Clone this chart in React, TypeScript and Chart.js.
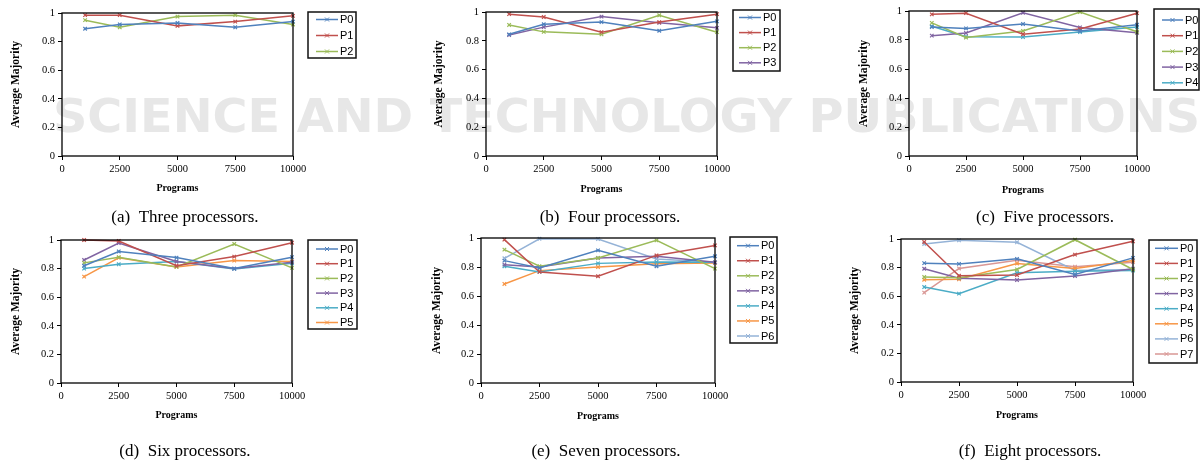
import React, { useEffect, useRef } from 'react';
import { Chart, registerables } from 'chart.js';
Chart.register(...registerables);

// ---------- data ----------
const programs = [1000, 2500, 5000, 7500, 10000];
const xTickValues = [0, 2500, 5000, 7500, 10000];
const yTickValues = [0, 0.2, 0.4, 0.6, 0.8, 1];
const seriesNames = ['P0', 'P1', 'P2', 'P3', 'P4', 'P5', 'P6', 'P7'];
const seriesColors = ['#4F81BD', '#C0504D', '#9BBB59', '#8064A2', '#4BACC6', '#F79646', '#95B3D7', '#D99795'];
const xAxisTitle = 'Programs';
const yAxisTitle = 'Average Majority';
const captions = [
  '(a)\u00a0\u00a0Three processors.',
  '(b)\u00a0\u00a0Four processors.',
  '(c)\u00a0\u00a0Five processors.',
  '(d)\u00a0\u00a0Six processors.',
  '(e)\u00a0\u00a0Seven processors.',
  '(f)\u00a0\u00a0Eight processors.',
];

// (a) three processors
const threeP0 = [0.89, 0.92, 0.93, 0.9, 0.94];
const threeP1 = [0.985, 0.985, 0.91, 0.94, 0.98];
const threeP2 = [0.95, 0.9, 0.975, 0.985, 0.92];
// (b) four processors
const fourP0 = [0.845, 0.915, 0.93, 0.87, 0.935];
const fourP1 = [0.985, 0.965, 0.86, 0.93, 0.985];
const fourP2 = [0.91, 0.862, 0.845, 0.977, 0.86];
const fourP3 = [0.84, 0.895, 0.968, 0.925, 0.89];
// (c) five processors
const fiveP0 = [0.89, 0.88, 0.91, 0.862, 0.905];
const fiveP1 = [0.977, 0.985, 0.84, 0.876, 0.985];
const fiveP2 = [0.918, 0.817, 0.862, 0.992, 0.857];
const fiveP3 = [0.83, 0.848, 0.988, 0.887, 0.85];
const fiveP4 = [0.895, 0.823, 0.82, 0.855, 0.89];
// (d) six processors
const sixP0 = [0.82, 0.92, 0.877, 0.8, 0.88];
const sixP1 = [1.0, 0.993, 0.82, 0.884, 0.981];
const sixP2 = [0.84, 0.88, 0.812, 0.972, 0.805];
const sixP3 = [0.86, 0.978, 0.85, 0.8, 0.845];
const sixP4 = [0.8, 0.83, 0.85, 0.798, 0.837];
const sixP5 = [0.744, 0.876, 0.812, 0.856, 0.85];
// (e) seven processors
const sevenP0 = [0.844, 0.793, 0.915, 0.805, 0.874];
const sevenP1 = [0.989, 0.766, 0.736, 0.88, 0.949];
const sevenP2 = [0.92, 0.805, 0.862, 0.984, 0.789];
const sevenP3 = [0.816, 0.8, 0.862, 0.874, 0.832];
const sevenP4 = [0.805, 0.766, 0.825, 0.834, 0.832];
const sevenP5 = [0.683, 0.775, 0.8, 0.823, 0.828];
const sevenP6 = [0.86, 0.995, 0.993, 0.855, 0.832];
// (f) eight processors
const eightP0 = [0.831, 0.826, 0.861, 0.752, 0.868];
const eightP1 = [0.979, 0.743, 0.748, 0.891, 0.984];
const eightP2 = [0.734, 0.729, 0.787, 0.995, 0.787];
const eightP3 = [0.792, 0.725, 0.713, 0.741, 0.792];
const eightP4 = [0.664, 0.618, 0.764, 0.775, 0.78];
const eightP5 = [0.715, 0.718, 0.829, 0.794, 0.85];
const eightP6 = [0.965, 0.991, 0.977, 0.78, 0.787];
const eightP7 = [0.625, 0.794, 0.852, 0.806, 0.838];

const panelSeries = [
  [threeP0, threeP1, threeP2],
  [fourP0, fourP1, fourP2, fourP3],
  [fiveP0, fiveP1, fiveP2, fiveP3, fiveP4],
  [sixP0, sixP1, sixP2, sixP3, sixP4, sixP5],
  [sevenP0, sevenP1, sevenP2, sevenP3, sevenP4, sevenP5, sevenP6],
  [eightP0, eightP1, eightP2, eightP3, eightP4, eightP5, eightP6, eightP7],
];

// ---------- layout (page pixel coordinates) ----------
const W = 1203;
const H = 461;
const layouts = [
  { L: 62, T: 13, R: 293, B: 156, yTitleX: 16, xH: 38, box: [308, 12, 356, 58], row0: 19.5, dy: 16, line: [316, 338], textX: 340, cx: 185, cy: 217 },
  { L: 486, T: 12, R: 717, B: 156, yTitleX: 439, xH: 39, box: [733, 10, 780, 71], row0: 17.5, dy: 15.1, line: [739, 761], textX: 763, cx: 610, cy: 217 },
  { L: 909, T: 11, R: 1137, B: 156, yTitleX: 864, xH: 40, box: [1154, 9, 1199, 90], row0: 20, dy: 15.7, line: [1162, 1183], textX: 1185, cx: 1045, cy: 217 },
  { L: 61, T: 240, R: 292, B: 383, yTitleX: 16, xH: 38, box: [308, 240, 357, 329], row0: 249, dy: 14.7, line: [316, 338], textX: 340, cx: 185, cy: 451 },
  { L: 481, T: 238, R: 715, B: 383, yTitleX: 437, xH: 39, box: [730, 237, 777, 343], row0: 245.7, dy: 15.05, line: [737, 759], textX: 761, cx: 606, cy: 451 },
  { L: 901, T: 239, R: 1133, B: 382, yTitleX: 855, xH: 39, box: [1149, 240, 1197, 363], row0: 248.3, dy: 15.1, line: [1155, 1178], textX: 1180, cx: 1030, cy: 451 },
];

const SERIF = '"Liberation Serif", "Times New Roman", serif';
const SANS = '"Liberation Sans", Arial, sans-serif';

const panelDecor = {
  id: 'panelDecor',
  afterDraw(chart: any, _args: any, opts: any) {
    const ctx = chart.ctx;
    const a = chart.chartArea;
    ctx.save();
    // plot box
    ctx.strokeStyle = '#000';
    ctx.lineWidth = 1.3;
    ctx.strokeRect(a.left, a.top, a.right - a.left, a.bottom - a.top);
    // legend
    const { box, row0, dy, line, textX } = opts;
    ctx.strokeStyle = '#111';
    ctx.lineWidth = 1.5;
    ctx.strokeRect(box[0], box[1], box[2] - box[0], box[3] - box[1]);
    chart.data.datasets.forEach((ds: any, i: number) => {
      const y = row0 + i * dy;
      ctx.strokeStyle = ds.borderColor;
      ctx.lineWidth = 1.5;
      ctx.beginPath();
      ctx.moveTo(line[0], y);
      ctx.lineTo(line[1], y);
      ctx.stroke();
      const mx = (line[0] + line[1]) / 2;
      const r = 2;
      ctx.lineWidth = 1;
      ctx.beginPath();
      ctx.moveTo(mx - r, y - r);
      ctx.lineTo(mx + r, y + r);
      ctx.moveTo(mx - r, y + r);
      ctx.lineTo(mx + r, y - r);
      ctx.stroke();
      ctx.fillStyle = '#000';
      ctx.font = '11px ' + SANS;
      ctx.textBaseline = 'middle';
      ctx.textAlign = 'left';
      ctx.fillText(ds.label, textX, y + 0.5);
    });
    ctx.restore();
  },
};

function buildConfig(series: number[][], lay: any): any {
  const padLeft = lay.yTitleX - 7;
  return {
    type: 'line',
    data: {
      datasets: series.map((vals, i) => ({
        label: seriesNames[i],
        data: programs.map((x, j) => ({ x, y: vals[j] })),
        borderColor: seriesColors[i],
        backgroundColor: seriesColors[i],
        borderWidth: 1.5,
        pointStyle: 'crossRot',
        pointRadius: 2.5,
        pointBorderWidth: 1.2,
        tension: 0,
        clip: false,
      })),
    },
    options: {
      animation: false,
      responsive: false,
      events: [],
      layout: {
        padding: { left: padLeft, top: lay.T, right: W - lay.R, bottom: H - lay.B - lay.xH },
      },
      plugins: {
        legend: { display: false },
        tooltip: { enabled: false },
        panelDecor: { box: lay.box, row0: lay.row0, dy: lay.dy, line: lay.line, textX: lay.textX },
      },
      scales: {
        x: {
          type: 'linear',
          min: 0,
          max: 10000,
          afterBuildTicks: (s: any) => { s.ticks = xTickValues.map((v) => ({ value: v })); },
          afterFit: (s: any) => { s.height = lay.xH; },
          ticks: { callback: (v: any) => String(v), color: '#000', font: { family: SERIF, size: 10.5 }, padding: 3, maxRotation: 0, autoSkip: false },
          grid: { display: true, drawOnChartArea: false, drawTicks: true, tickLength: 4, color: '#000', lineWidth: 1 },
          border: { display: false },
          title: { display: true, text: xAxisTitle, color: '#000', font: { family: SERIF, size: 10, weight: 'bold' }, padding: 0 },
        },
        y: {
          type: 'linear',
          min: 0,
          max: 1,
          afterBuildTicks: (s: any) => { s.ticks = yTickValues.map((v) => ({ value: v })); },
          afterFit: (s: any) => { s.width = lay.L - padLeft; },
          ticks: { callback: (v: any) => String(Math.round(v * 10) / 10), color: '#000', font: { family: SERIF, size: 10.5 }, padding: 3 },
          grid: { display: true, drawOnChartArea: false, drawTicks: true, tickLength: 4, color: '#000', lineWidth: 1 },
          border: { display: false },
          title: { display: true, text: yAxisTitle, color: '#000', font: { family: SERIF, size: 11.5, weight: 'bold' }, padding: 0 },
        },
      },
    },
    plugins: [panelDecor],
  };
}

function Panel({ index }: { index: number }) {
  const ref = useRef<HTMLCanvasElement>(null);
  useEffect(() => {
    const chart = new Chart(ref.current as HTMLCanvasElement, buildConfig(panelSeries[index], layouts[index]));
    return () => chart.destroy();
  }, [index]);
  return (
    <canvas
      ref={ref}
      width={W}
      height={H}
      style={{ position: 'absolute', left: 0, top: 0, width: W, height: H }}
    />
  );
}

function Watermark() {
  const ref = useRef<HTMLCanvasElement>(null);
  useEffect(() => {
    const c = ref.current as HTMLCanvasElement;
    const ctx = c.getContext('2d') as CanvasRenderingContext2D;
    ctx.clearRect(0, 0, c.width, c.height);
    ctx.fillStyle = '#e7e7e7';
    const drawFit = (text: string, x1: number, x2: number, baseline: number, capH: number) => {
      const size = capH / 0.73;
      ctx.font = `bold ${size}px "DejaVu Sans"`;
      const w = ctx.measureText(text).width;
      ctx.save();
      ctx.translate(x1, baseline);
      ctx.scale((x2 - x1) / w, 1);
      ctx.textBaseline = 'alphabetic';
      ctx.fillText(text, 0, 0);
      ctx.restore();
    };
    drawFit('SCIENCE AND TECHNOLOGY PUBLICATIONS', 53, 1200, 132, 34);
  }, []);
  return <canvas ref={ref} width={W} height={H} style={{ position: 'absolute', left: 0, top: 0, width: W, height: H }} />;
}

export default function App() {
  return (
    <div style={{ position: 'fixed', left: 0, top: 0, width: W, height: H, background: '#fff', overflow: 'hidden' }}>
      <Watermark />
      {layouts.map((_, i) => (
        <Panel key={i} index={i} />
      ))}
      {layouts.map((lay, i) => (
        <div
          key={'c' + i}
          style={{
            position: 'absolute',
            left: lay.cx - 150,
            width: 300,
            top: lay.cy - 11,
            height: 22,
            lineHeight: '22px',
            textAlign: 'center',
            fontFamily: SERIF,
            fontSize: 17,
            color: '#000',
            whiteSpace: 'nowrap',
          }}
        >
          {captions[i]}
        </div>
      ))}
    </div>
  );
}
